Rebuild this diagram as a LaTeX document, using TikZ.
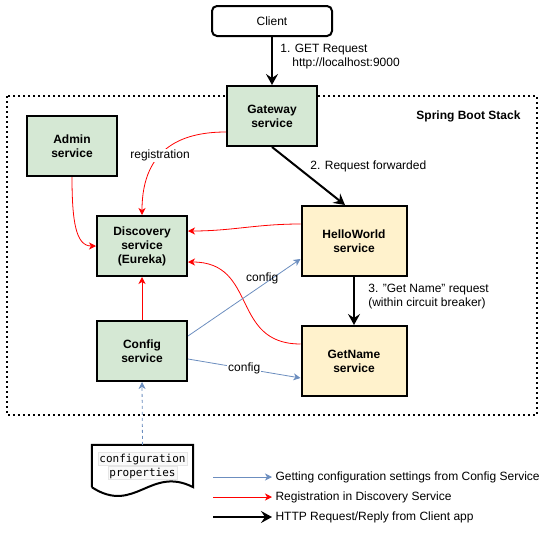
\documentclass[tikz,border=0pt]{standalone}
\usepackage{fontspec}
\setmainfont{Liberation Sans}
\setmonofont{DejaVu Sans Mono}
\usetikzlibrary{arrows.meta,positioning}

\definecolor{svcgreen}{HTML}{D5E8D4}
\definecolor{svcyellow}{HTML}{FFF2CC}
\definecolor{cfgblue}{HTML}{6C8EBF}
\setlength{\fboxsep}{1pt}
\newcommand{\codeword}[1]{\fcolorbox{gray!20}{gray!5}{\ttfamily #1}}

\begin{document}
\begin{tikzpicture}[x=1pt, y=-1pt, node distance=48pt,
    every node/.append style={align=center, text=black, font=\fontsize{12}{14}\selectfont},
    svc/.style={draw, line width=2pt, minimum width=90pt, minimum height=60pt,
                fill=svcgreen, font=\fontsize{12}{14}\selectfont\bfseries},
    app/.style={svc, minimum width=105pt, minimum height=70pt, fill=svcyellow},
    http/.style={-{Stealth[length=11pt,width=12pt,inset=4pt]}, line width=2pt},
    reg/.style={-{Stealth[length=7pt,width=7pt,inset=2pt]}, red, line width=0.8pt},
    conf/.style={-{Stealth[length=7pt,width=7pt,inset=2pt]}, cfgblue, line width=0.8pt}]
   \useasboundingbox (0,0) rectangle (557,538);
   % Spring Boot frame
   \draw[line width=2pt, dash pattern=on 2pt off 3pt] (7,96) rectangle (537,415);
   \node[anchor=east, font=\fontsize{12}{14}\selectfont\bfseries] (SB) at (524,116) {Spring Boot Stack};

   \node [svc] (GW) at (272,116) {Gateway\\service};
   \node [draw, line width=2pt, rounded corners=5pt, minimum width=120pt,
          minimum height=30pt, above=48pt of GW] (C) {Client};
   \node [svc] (AD) at (72,146) {Admin\\service};
   \node [svc] (DS) at (142,246) {Discovery\\service\\(Eureka)};
   \node [svc, below=43pt of DS] (CS) {Config\\service};
   \node [app] (HW) at (354,241) {HelloWorld\\service};
   \node [app, below=of HW] (GN) {GetName\\service};

   % requests from the client
   \draw[http] (C) -- node[pos=0.4, right=4pt, align=left]
      {1. GET Request\\\hspace{12pt}http://localhost:9000} (GW);
   \draw[http] (GW.south) -- node[pos=0.33, right=10pt] {2. Request forwarded}
      ([xshift=-9pt]HW.north);
   \draw[http] (HW) -- node[pos=0.4, right=10pt, align=left]
      {3. "Get Name" request\\(within circuit breaker)} (GN);

   % registration
   \draw[reg] ([yshift=-16pt]GW.west) to[out=180, in=90, out distance=40pt, in distance=70pt]
      node[pos=0.6, fill=white, inner sep=1pt] {registration} (DS.north);
   \draw[reg] (AD.south) to[out=-90, in=180, out distance=45pt, in distance=20pt] (DS.west);
   \draw[reg] ([yshift=17pt]HW.west) to[out=180, in=0] ([yshift=15pt]DS.east);
   \draw[reg] ([yshift=17pt]GN.west) to[out=180, in=0, out distance=70pt, in distance=70pt]
      ([yshift=-16pt]DS.east);
   \draw[reg] (CS) -- (DS);

   % config
   \draw[conf] ([yshift=15pt]CS.east) -- node[pos=0.66, above, inner sep=1pt] {config}
      ([yshift=-18pt]HW.west);
   \draw[conf] ([yshift=-8pt]CS.east) -- node[fill=white, inner sep=1pt] {config}
      ([yshift=-17pt]GN.west);

   \node [minimum width=101pt, minimum height=42pt, inner sep=0pt,
          font=\fontsize{11}{14}\selectfont] (P) at (142.5,466)
      {\codeword{configuration}\\\codeword{properties}};
   \draw[line width=2pt] (P.south west) -- (P.north west) -- (P.north east) -- (P.south east)
      .. controls +(-43,-22) and +(43,28) .. (P.south west);
   \draw[conf, dash pattern=on 3pt off 3pt] (P.north) -- (CS.south);

   % legend
   \coordinate (L1) at (213,477);
   \coordinate (L2) at (213,497);
   \coordinate (L3) at (213,517);
   \node[anchor=west] (T1) at (272,477) {Getting configuration settings from Config Service};
   \node[anchor=west] (T2) at (272,497) {Registration in Discovery Service};
   \node[anchor=west] (T3) at (272,517) {HTTP Request/Reply from Client app};
   \draw[conf] (L1) -- (T1.west);
   \draw[reg] (L2) -- (T2.west);
   \draw[http] (L3) -- (T3.west);
\end{tikzpicture}
\end{document}
